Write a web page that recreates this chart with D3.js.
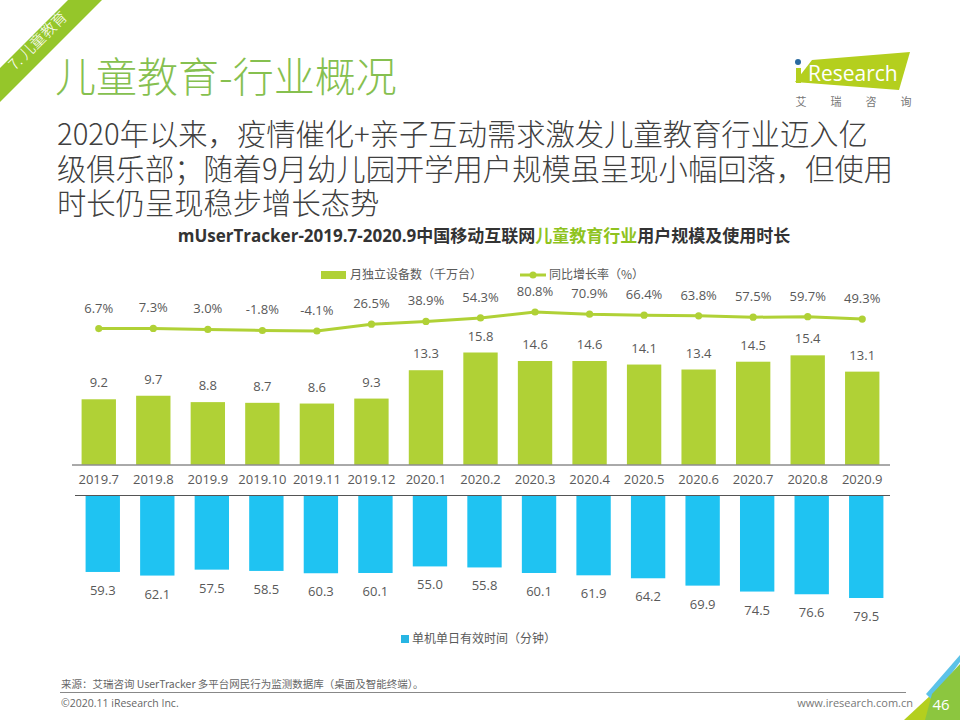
<!DOCTYPE html>
<html><head><meta charset="utf-8">
<script src="https://cdn.jsdelivr.net/npm/d3@7/dist/d3.min.js"></script>
<style>html,body{margin:0;padding:0;background:#fff}svg{display:block}
text{font-family:"Open Sans","Noto Sans CJK SC",sans-serif}</style></head><body>
<svg id="c" width="960" height="720"></svg>
<script>
const months=["2019.7","2019.8","2019.9","2019.10","2019.11","2019.12","2020.1","2020.2","2020.3","2020.4","2020.5","2020.6","2020.7","2020.8","2020.9"];
const devices=[9.2,9.7,8.8,8.7,8.6,9.3,13.3,15.8,14.6,14.6,14.1,13.4,14.5,15.4,13.1];
const growth=[6.7,7.3,3.0,-1.8,-4.1,26.5,38.9,54.3,80.8,70.9,66.4,63.8,57.5,59.7,49.3];
const minutes=[59.3,62.1,57.5,58.5,60.3,60.1,55.0,55.8,60.1,61.9,64.2,69.9,74.5,76.6,79.5];
const bodyLines=["2020年以来，疫情催化+亲子互动需求激发儿童教育行业迈入亿","级俱乐部；随着9月幼儿园开学用户规模虽呈现小幅回落，但使用","时长仍呈现稳步增长态势"];

const GREEN="#b0d136",BLUE="#1fc3f2",TXT="#595959";
const svg=d3.select("#c");
const cjk='"Noto Sans CJK SC","Open Sans",sans-serif';

// decoration
svg.append("polygon").attr("points","0,68 0,102 102,0 68,0").attr("fill","#8fc31f").attr("opacity",0.95);
svg.append("text").attr("transform","translate(15,71) rotate(-45)").attr("font-size",15).attr("font-weight",300).attr("fill","#fff").style("font-family",cjk).text("7. 儿童教育");
svg.append("text").attr("x",55).attr("y",92).attr("font-size",41).attr("font-weight",300).attr("fill","#86c04f").style("font-family",cjk).text("儿童教育-行业概况");
svg.selectAll(".body").data(bodyLines).join("text").attr("class","body").attr("x",57).attr("y",(d,i)=>145+i*34.5).attr("font-size",29.3).attr("font-weight",300).attr("fill","#404040").style("font-family",cjk).text(d=>d);
const ttl=svg.append("text").attr("x",484).attr("y",242).attr("text-anchor","middle").attr("font-size",17).attr("font-weight",700).attr("fill","#333");
ttl.append("tspan").text("mUserTracker-2019.7-2020.9中国移动互联网");
ttl.append("tspan").attr("fill","#8fc31f").text("儿童教育行业");
ttl.append("tspan").text("用户规模及使用时长");

// logo
svg.append("polygon").attr("points","812,60 910,52 899,90 795,82").attr("fill","#b4cf1e");
svg.append("circle").attr("cx",798).attr("cy",62).attr("r",3).attr("fill","#2a6aa0");
svg.append("text").attr("x",808).attr("y",81).attr("font-size",21).attr("fill","#fff").text("Research");
svg.append("rect").attr("x",796).attr("y",68).attr("width",5).attr("height",15).attr("fill","#b4cf1e");
svg.selectAll(".lg").data(["艾","瑞","咨","询"]).join("text").attr("class","lg").attr("x",(d,i)=>801+i*35).attr("y",106).attr("text-anchor","middle").attr("font-size",11).attr("fill","#777").style("font-family",cjk).text(d=>d);

// scales
const xBar=d3.scaleBand().domain(months).range([71.5,889.5]).paddingInner(0.37).paddingOuter(0.185);
const yUp=d3.scaleLinear().domain([0,15.8]).range([464.5,352.5]);
const yDown=d3.scaleLinear().domain([0,79.5]).range([495.5,598]);
const yLine=d3.scaleLinear().domain([-4.1,80.8]).range([331,312]);
const blueDx=4;

const cx=d=>xBar(d)+xBar.bandwidth()/2;

// green bars
svg.selectAll(".g").data(devices).join("rect").attr("class","g")
 .attr("x",(d,i)=>xBar(months[i])).attr("width",xBar.bandwidth())
 .attr("y",d=>yUp(d)).attr("height",d=>yUp(0)-yUp(d)).attr("fill",GREEN);
svg.selectAll(".gl").data(devices).join("text").attr("class","gl")
 .attr("x",(d,i)=>cx(months[i])).attr("y",d=>yUp(d)-12).attr("text-anchor","middle")
 .attr("font-size",13).attr("fill",TXT).text(d=>d.toFixed(1));

// line
const line=d3.line().x((d,i)=>cx(months[i])).y(d=>yLine(d));
svg.append("path").datum(growth).attr("d",line).attr("fill","none").attr("stroke",GREEN).attr("stroke-width",3);
svg.selectAll(".pt").data(growth).join("circle").attr("class","pt").attr("cx",(d,i)=>cx(months[i])).attr("cy",d=>yLine(d)).attr("r",3.6).attr("fill",GREEN);
svg.selectAll(".ptl").data(growth).join("text").attr("class","ptl")
 .attr("x",(d,i)=>cx(months[i])).attr("y",d=>yLine(d)-16).attr("text-anchor","middle")
 .attr("font-size",13).attr("fill",TXT).text(d=>d.toFixed(1)+"%");

// blue bars
svg.selectAll(".b").data(minutes).join("rect").attr("class","b")
 .attr("x",(d,i)=>xBar(months[i])+blueDx).attr("width",xBar.bandwidth())
 .attr("y",yDown(0)).attr("height",d=>yDown(d)-yDown(0)).attr("fill",BLUE);
svg.selectAll(".bl").data(minutes).join("text").attr("class","bl")
 .attr("x",(d,i)=>cx(months[i])+blueDx).attr("y",d=>yDown(d)+23).attr("text-anchor","middle")
 .attr("font-size",13).attr("fill",TXT).text(d=>d.toFixed(1));

// axis
const ax=svg.append("g").attr("transform","translate(0,464.5)").call(d3.axisBottom(xBar).tickSize(0).tickPadding(10));
ax.select(".domain").attr("stroke","#555").attr("stroke-width",1);
ax.selectAll("text").attr("font-size",13).attr("fill",TXT).style("font-family",'"Open Sans",sans-serif');
svg.append("line").attr("x1",75).attr("x2",890).attr("y1",495.5).attr("y2",495.5).attr("stroke","#555");

// legends
svg.append("rect").attr("x",321).attr("y",271).attr("width",25).attr("height",8).attr("fill",GREEN);
svg.append("text").attr("x",350).attr("y",279).attr("font-size",12).attr("fill",TXT).style("font-family",cjk).text("月独立设备数（千万台）");
svg.append("line").attr("x1",520).attr("x2",546).attr("y1",275).attr("y2",275).attr("stroke",GREEN).attr("stroke-width",3);
svg.append("circle").attr("cx",533).attr("cy",275).attr("r",3.5).attr("fill",GREEN);
svg.append("text").attr("x",549).attr("y",279).attr("font-size",12).attr("fill",TXT).style("font-family",cjk).text("同比增长率（%）");
svg.append("rect").attr("x",401).attr("y",635).attr("width",8).attr("height",8).attr("fill","#27b5e3");
svg.append("text").attr("x",412).attr("y",643).attr("font-size",12).attr("fill",TXT).style("font-family",cjk).text("单机单日有效时间（分钟）");

// footer
svg.append("text").attr("x",61).attr("y",688).attr("font-size",10.5).attr("fill","#666").style("font-family",cjk).text("来源：艾瑞咨询 UserTracker 多平台网民行为监测数据库（桌面及智能终端）。");
svg.append("line").attr("x1",60).attr("x2",906).attr("y1",692.5).attr("y2",692.5).attr("stroke","#888");
svg.append("text").attr("x",61).attr("y",707).attr("font-size",10.5).attr("fill","#666").text("©2020.11 iResearch Inc.");
svg.append("text").attr("x",913).attr("y",707).attr("text-anchor","end").attr("font-size",11).attr("fill","#777").text("www.iresearch.com.cn");

// corner
svg.append("polygon").attr("points","960,720 904,720 960,668").attr("fill","#b4cf1e");
svg.append("polygon").attr("points","926,694 960,655 960,662 932,700").attr("fill","#5cc2e8");
svg.append("polygon").attr("points","932,694 960,664 960,720 925,720").attr("fill","#8cc63f");
svg.append("text").attr("x",941).attr("y",710).attr("text-anchor","middle").attr("font-size",15).attr("fill","#fff").text("46");
</script></body></html>
